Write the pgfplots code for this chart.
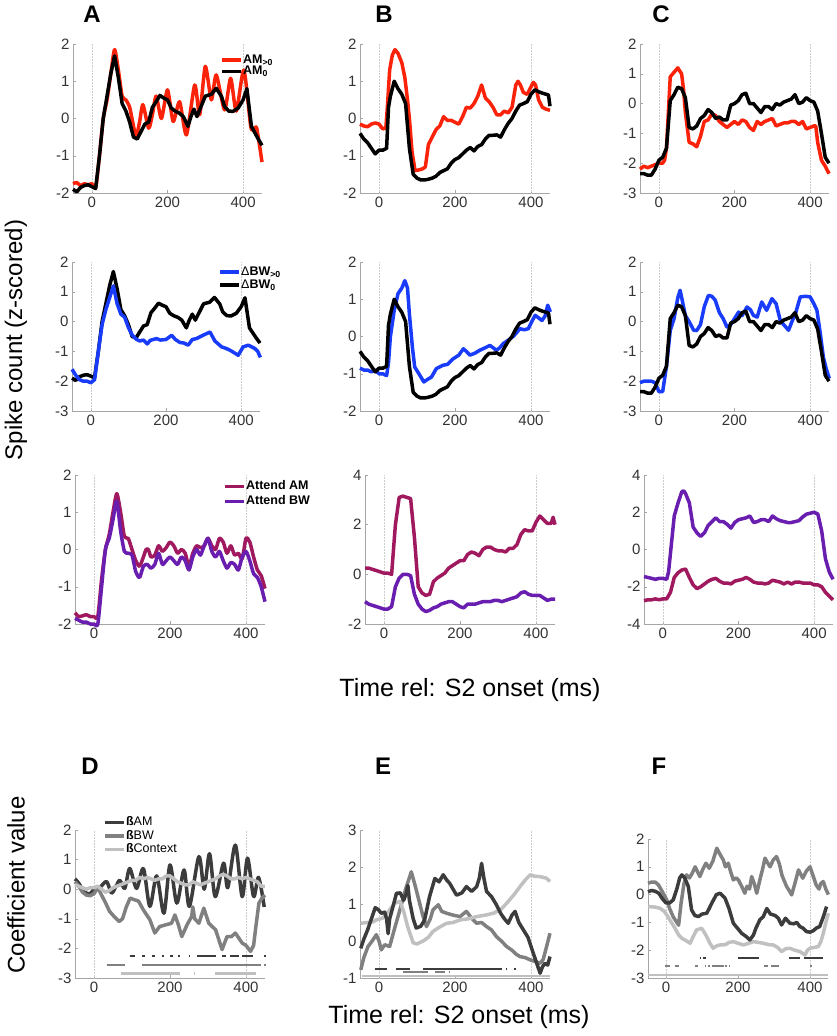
\documentclass[border=0pt]{standalone}
\usepackage{fontspec}
\setmainfont{Liberation Sans}
\usepackage{pgfplots}
\usepackage{pgfplotstable}
\pgfplotsset{compat=1.18}
\definecolor{cred}{RGB}{250,35,10}
\definecolor{cblue}{RGB}{25,60,250}
\definecolor{cmag}{RGB}{160,25,95}
\definecolor{cpur}{RGB}{105,30,175}
\definecolor{gdark}{RGB}{60,60,60}
\definecolor{gmed}{RGB}{128,128,128}
\definecolor{glight}{RGB}{192,192,192}

\pgfplotsset{
  panel/.style={
    scale only axis, xmin=-50, xmax=450, xtick={0,200,400},
    axis x line*=bottom, axis y line*=left,
    axis line style={draw=gray!70, line width=0.6pt},
    tick style={draw=gray!70, line width=0.5pt},
    tick align=inside, major tick length=3pt,
    /pgf/number format/assume math mode=true,
    tick label style={font=\fontsize{15}{15}\selectfont, text=black!80},
    clip=false, unbounded coords=jump,
    legend cell align=left,
    legend style={draw=none, fill=none, inner sep=0pt, anchor=north west,
      nodes={inner sep=0.5pt, text height=8pt, text depth=2pt},
      font=\fontsize{12.5}{13}\selectfont\bfseries},
    legend image code/.code={\draw[##1, line width=3.4pt] (0pt,0pt) -- (19pt,0pt);},
  },
  sig/.style={forget plot, line width=2.3pt, line cap=butt},
}
\newcommand{\refl}[2]{%
  \addplot[forget plot, gray!40, line width=0.5pt, densely dotted] coordinates {(0,#1)(0,#2)};
  \addplot[forget plot, gray!40, line width=0.5pt, densely dotted] coordinates {(400,#1)(400,#2)};}

% ---------------- data ----------------
\pgfplotstableread[row sep=\\]{x y\\ -50 -1.75\\ -40 -1.72\\ -30 -1.8\\ -20 -1.75\\ -10 -1.78\\ 0 -1.75\\ 10 -1.85\\ 20 -1.0\\ 30 0.0\\ 40 0.5\\ 50 1.2\\ 60 1.85\\ 70 1.3\\ 80 0.6\\ 90 0.5\\ 100 0.3\\ 108 -0.1\\ 117 -0.48\\ 126 -0.1\\ 135 0.37\\ 150 -0.26\\ 160 0.1\\ 170 0.6\\ 184 0.0\\ 200 0.77\\ 215 -0.08\\ 232 0.45\\ 250 -0.44\\ 272 0.9\\ 285 0.1\\ 300 1.4\\ 316 0.5\\ 329 1.17\\ 351 0.23\\ 367 1.08\\ 382 0.2\\ 402 1.3\\ 420 -0.2\\ 428 -0.3\\ 436 -0.26\\ 450 -1.17\\}\tAred
\pgfplotstableread[row sep=\\]{x y\\ -50 -1.9\\ -40 -1.97\\ -30 -1.85\\ -20 -1.8\\ -10 -1.78\\ 0 -1.83\\ 10 -1.88\\ 20 -1.0\\ 30 0.0\\ 40 0.6\\ 50 1.2\\ 60 1.68\\ 70 1.1\\ 80 0.4\\ 90 0.2\\ 100 -0.1\\ 110 -0.5\\ 120 -0.55\\ 130 -0.35\\ 140 -0.15\\ 150 -0.1\\ 160 0.3\\ 170 0.45\\ 180 0.62\\ 190 0.55\\ 200 0.5\\ 210 0.28\\ 220 0.2\\ 232 0.14\\ 242 0.05\\ 254 -0.21\\ 262 0.05\\ 270 0.25\\ 278 0.05\\ 290 0.35\\ 300 0.6\\ 316 0.65\\ 329 0.81\\ 343 0.59\\ 351 0.32\\ 362 0.2\\ 373 0.19\\ 387 0.28\\ 400 0.5\\ 410 0.8\\ 422 -0.21\\ 432 -0.4\\ 440 -0.55\\ 450 -0.72\\}\tAblack
\pgfplotstableread[row sep=\\]{x y\\ -50 -0.15\\ -40 -0.2\\ -30 -0.22\\ -20 -0.15\\ -10 -0.12\\ 0 -0.15\\ 10 -0.28\\ 18 -0.25\\ 22 0.3\\ 28 1.3\\ 35 1.7\\ 42 1.85\\ 50 1.75\\ 60 1.5\\ 68 1.1\\ 75 0.5\\ 80 0\\ 87 -0.9\\ 95 -1.4\\ 105 -1.38\\ 115 -1.35\\ 122 -1.3\\ 130 -0.7\\ 140 -0.5\\ 150 -0.3\\ 160 -0.2\\ 170 0.05\\ 180 -0.05\\ 190 -0.05\\ 200 -0.1\\ 210 -0.15\\ 220 0.05\\ 230 0.3\\ 240 0.28\\ 250 0.4\\ 260 0.6\\ 270 0.9\\ 280 0.55\\ 290 0.45\\ 300 0.3\\ 310 0.1\\ 320 0.1\\ 330 0.2\\ 340 0.15\\ 350 0.3\\ 360 0.9\\ 366 1.0\\ 372 0.9\\ 380 0.7\\ 390 0.65\\ 400 0.85\\ 406 0.97\\ 412 0.9\\ 420 0.5\\ 430 0.3\\ 440 0.25\\ 450 0.22\\}\tBred
\pgfplotstableread[row sep=\\]{x y\\ -50 -0.4\\ -40 -0.55\\ -30 -0.65\\ -20 -0.8\\ -10 -0.95\\ 0 -0.85\\ 10 -0.85\\ 20 -0.8\\ 25 0.3\\ 30 0.6\\ 40 1.0\\ 50 0.8\\ 60 0.65\\ 70 0.4\\ 80 -0.8\\ 90 -1.5\\ 100 -1.6\\ 110 -1.65\\ 120 -1.65\\ 130 -1.63\\ 140 -1.6\\ 150 -1.55\\ 160 -1.45\\ 170 -1.4\\ 180 -1.35\\ 190 -1.2\\ 200 -1.1\\ 210 -1.05\\ 220 -0.95\\ 230 -0.85\\ 240 -0.78\\ 250 -0.87\\ 260 -0.75\\ 270 -0.7\\ 280 -0.55\\ 290 -0.45\\ 300 -0.45\\ 310 -0.44\\ 320 -0.5\\ 330 -0.3\\ 340 -0.13\\ 350 0.0\\ 360 0.2\\ 370 0.36\\ 380 0.4\\ 390 0.45\\ 400 0.65\\ 410 0.77\\ 420 0.72\\ 430 0.68\\ 440 0.65\\ 446 0.63\\ 450 0.33\\}\tBblack
\pgfplotstableread[row sep=\\]{x y\\ -50 -2.2\\ -40 -2.1\\ -30 -2.15\\ -20 -2.1\\ -10 -2.05\\ 0 -2.0\\ 10 -2.0\\ 15 -1.9\\ 20 -1.5\\ 25 -0.3\\ 30 0.9\\ 40 1.05\\ 50 1.2\\ 60 1.0\\ 65 0.5\\ 70 -0.3\\ 80 -1.3\\ 90 -1.35\\ 100 -1.45\\ 110 -1.1\\ 120 -0.6\\ 130 -0.55\\ 140 -0.35\\ 150 -0.4\\ 160 -0.6\\ 170 -0.7\\ 180 -0.8\\ 190 -0.7\\ 200 -0.6\\ 210 -0.7\\ 220 -0.55\\ 230 -0.6\\ 240 -0.8\\ 250 -0.9\\ 260 -0.6\\ 270 -0.7\\ 280 -0.6\\ 290 -0.55\\ 300 -0.5\\ 310 -0.75\\ 320 -0.7\\ 330 -0.65\\ 340 -0.65\\ 350 -0.6\\ 360 -0.6\\ 370 -0.7\\ 380 -0.6\\ 390 -0.85\\ 400 -0.8\\ 410 -0.75\\ 415 -0.75\\ 420 -1.3\\ 430 -1.9\\ 440 -2.1\\ 450 -2.35\\}\tCred
\pgfplotstableread[row sep=\\]{x y\\ -50 -2.35\\ -40 -2.35\\ -30 -2.4\\ -20 -2.4\\ -10 -2.2\\ 0 -1.9\\ 10 -1.8\\ 20 -1.5\\ 30 0.1\\ 40 0.3\\ 50 0.55\\ 60 0.5\\ 70 0.2\\ 80 -0.8\\ 90 -0.85\\ 100 -0.75\\ 110 -0.5\\ 120 -0.4\\ 130 -0.2\\ 140 -0.3\\ 150 -0.5\\ 160 -0.45\\ 170 -0.55\\ 180 -0.55\\ 190 -0.05\\ 200 0.0\\ 210 0.1\\ 220 0.3\\ 230 0.35\\ 240 0.0\\ 250 0.0\\ 260 -0.15\\ 270 -0.3\\ 280 -0.1\\ 290 -0.1\\ 300 -0.2\\ 310 0.0\\ 320 -0.05\\ 330 0.05\\ 340 0.1\\ 350 0.15\\ 360 0.3\\ 370 0.0\\ 380 0.05\\ 390 0.2\\ 400 0.1\\ 410 0.05\\ 420 -0.25\\ 430 -1.0\\ 440 -1.8\\ 450 -2.0\\}\tCblack
\pgfplotstableread[row sep=\\]{x y\\ -50 -1.6\\ -40 -1.8\\ -30 -1.95\\ -20 -2.0\\ -10 -2.0\\ 0 -2.05\\ 10 -1.95\\ 20 -1.0\\ 30 -0.1\\ 40 0.4\\ 50 0.8\\ 60 1.2\\ 70 0.6\\ 80 0.25\\ 90 0.15\\ 100 -0.2\\ 110 -0.45\\ 122 -0.6\\ 130 -0.65\\ 140 -0.62\\ 150 -0.75\\ 158 -0.63\\ 175 -0.57\\ 185 -0.62\\ 200 -0.6\\ 215 -0.46\\ 225 -0.6\\ 237 -0.7\\ 248 -0.72\\ 259 -0.79\\ 270 -0.6\\ 281 -0.57\\ 292 -0.5\\ 300 -0.45\\ 317 -0.35\\ 330 -0.65\\ 348 -0.85\\ 360 -0.9\\ 370 -0.96\\ 382 -1.05\\ 392 -1.13\\ 405 -0.85\\ 419 -0.79\\ 428 -0.85\\ 436 -0.9\\ 444 -1.0\\ 451 -1.2\\}\tAblue
\pgfplotstableread[row sep=\\]{x y\\ -50 -0.85\\ -40 -0.9\\ -30 -0.9\\ -20 -0.95\\ -10 -0.9\\ 0 -1.0\\ 10 -1.0\\ 20 -1.05\\ 25 -0.7\\ 30 0.0\\ 40 0.7\\ 50 1.15\\ 60 1.3\\ 68 1.5\\ 75 1.3\\ 80 0.6\\ 88 -0.3\\ 94 -0.82\\ 105 -1.0\\ 118 -1.22\\ 128 -1.15\\ 138 -1.09\\ 151 -0.86\\ 169 -0.77\\ 180 -0.75\\ 195 -0.6\\ 210 -0.5\\ 222 -0.33\\ 230 -0.4\\ 239 -0.5\\ 252 -0.45\\ 265 -0.37\\ 280 -0.3\\ 292 -0.24\\ 300 -0.3\\ 309 -0.37\\ 318 -0.3\\ 327 -0.19\\ 340 -0.1\\ 353 0.0\\ 362 0.1\\ 371 0.21\\ 382 0.18\\ 393 0.21\\ 402 0.4\\ 411 0.57\\ 420 0.5\\ 429 0.43\\ 437 0.55\\ 444 0.84\\ 451 0.66\\}\tBblue
\pgfplotstableread[row sep=\\]{x y\\ -50 -2.05\\ -40 -2.0\\ -30 -2.0\\ -20 -2.0\\ -10 -2.05\\ 0 -2.35\\ 10 -2.35\\ 20 -1.5\\ 30 -0.3\\ 40 0.1\\ 50 0.8\\ 56 1.05\\ 62 0.7\\ 70 0.2\\ 80 0.0\\ 92 -0.29\\ 100 -0.3\\ 110 -0.1\\ 120 0.5\\ 131 0.88\\ 140 0.85\\ 149 0.72\\ 160 0.3\\ 170 0.1\\ 180 -0.18\\ 190 -0.1\\ 200 0.1\\ 211 0.32\\ 220 0.2\\ 233 0.49\\ 242 0.4\\ 250 0.21\\ 260 0.15\\ 272 0.66\\ 285 0.38\\ 299 0.77\\ 310 0.6\\ 321 0.04\\ 330 -0.1\\ 343 -0.29\\ 352 0.0\\ 362 0.3\\ 374 0.83\\ 388 0.85\\ 400 0.83\\ 410 0.6\\ 418 0.38\\ 427 -0.4\\ 435 -1.19\\ 443 -1.6\\ 451 -1.91\\}\tCblue
\pgfplotstableread[row sep=\\]{x y\\ -50 -1.7\\ -40 -1.8\\ -30 -1.78\\ -20 -1.75\\ -10 -1.8\\ 0 -1.8\\ 10 -1.8\\ 20 -0.8\\ 30 0.0\\ 40 0.4\\ 50 1.0\\ 60 1.5\\ 70 1.0\\ 80 0.35\\ 90 0.3\\ 100 0.0\\ 110 -0.3\\ 120 -0.45\\ 130 -0.2\\ 137 0.0\\ 143 0.0\\ 150 -0.2\\ 160 -0.15\\ 170 0.1\\ 180 -0.05\\ 190 0.05\\ 200 0.2\\ 210 0.1\\ 220 -0.1\\ 230 0.0\\ 240 -0.1\\ 250 -0.45\\ 260 -0.1\\ 270 0.1\\ 280 0.05\\ 290 0.1\\ 300 0.3\\ 310 0.1\\ 320 0.0\\ 330 0.3\\ 340 0.2\\ 350 -0.1\\ 360 0.1\\ 370 -0.15\\ 380 -0.1\\ 390 -0.25\\ 400 0.3\\ 410 0.2\\ 420 -0.2\\ 430 -0.55\\ 440 -0.7\\ 450 -1.05\\}\tAmag
\pgfplotstableread[row sep=\\]{x y\\ -50 -1.85\\ -40 -1.9\\ -30 -1.95\\ -20 -1.95\\ -10 -2.0\\ 0 -2.0\\ 10 -2.0\\ 20 -1.0\\ 30 0.0\\ 40 0.3\\ 50 0.8\\ 60 1.3\\ 70 0.5\\ 80 -0.05\\ 90 -0.1\\ 100 -0.15\\ 110 -0.6\\ 120 -0.75\\ 130 -0.45\\ 140 -0.4\\ 150 -0.5\\ 160 -0.4\\ 170 -0.1\\ 180 -0.4\\ 190 -0.3\\ 200 -0.2\\ 210 -0.3\\ 220 -0.4\\ 230 -0.2\\ 240 -0.3\\ 250 -0.55\\ 260 -0.2\\ 270 0.0\\ 280 -0.15\\ 290 0.1\\ 300 0.3\\ 310 -0.05\\ 320 -0.2\\ 330 -0.05\\ 340 -0.3\\ 350 -0.5\\ 360 -0.35\\ 370 -0.4\\ 380 -0.55\\ 390 -0.2\\ 400 -0.05\\ 410 -0.3\\ 420 -0.65\\ 430 -0.75\\ 440 -1.0\\ 450 -1.4\\}\tApur
\pgfplotstableread[row sep=\\]{x y\\ -50 0.25\\ -40 0.25\\ -30 0.2\\ -20 0.15\\ -10 0.1\\ 0 0.05\\ 10 0.05\\ 20 0.0\\ 25 1.0\\ 30 2.0\\ 40 3.1\\ 50 3.15\\ 60 3.1\\ 70 3.05\\ 80 1.5\\ 90 -0.5\\ 100 -0.75\\ 110 -0.85\\ 120 -0.8\\ 130 -0.3\\ 140 -0.15\\ 150 -0.05\\ 160 0.05\\ 170 0.25\\ 180 0.35\\ 190 0.45\\ 200 0.55\\ 210 0.55\\ 220 0.8\\ 230 0.9\\ 240 0.85\\ 250 0.75\\ 260 1.0\\ 270 1.1\\ 280 1.1\\ 290 1.0\\ 300 0.95\\ 310 0.95\\ 320 0.9\\ 330 1.05\\ 340 1.05\\ 350 1.2\\ 360 1.6\\ 370 1.8\\ 380 1.75\\ 390 1.75\\ 400 2.1\\ 410 2.35\\ 420 2.2\\ 430 2.05\\ 440 2.05\\ 445 2.3\\ 450 2.0\\}\tBmag
\pgfplotstableread[row sep=\\]{x y\\ -50 -1.1\\ -40 -1.2\\ -30 -1.25\\ -20 -1.3\\ -10 -1.35\\ 0 -1.4\\ 10 -1.4\\ 20 -1.3\\ 30 -0.5\\ 40 -0.15\\ 50 0.0\\ 60 0.0\\ 70 -0.05\\ 80 -0.8\\ 90 -1.2\\ 100 -1.4\\ 110 -1.5\\ 120 -1.45\\ 130 -1.35\\ 140 -1.3\\ 150 -1.2\\ 160 -1.15\\ 170 -1.1\\ 180 -1.1\\ 190 -1.2\\ 200 -1.3\\ 210 -1.35\\ 220 -1.2\\ 230 -1.2\\ 240 -1.2\\ 250 -1.15\\ 260 -1.1\\ 270 -1.1\\ 280 -1.1\\ 290 -1.05\\ 300 -1.05\\ 310 -1.1\\ 320 -1.05\\ 330 -1.0\\ 340 -0.95\\ 350 -0.9\\ 360 -0.75\\ 370 -0.7\\ 380 -0.8\\ 390 -0.85\\ 400 -0.85\\ 410 -0.85\\ 420 -0.95\\ 430 -1.05\\ 440 -1.0\\ 450 -1.0\\}\tBpur
\pgfplotstableread[row sep=\\]{x y\\ -50 -1.45\\ -40 -1.5\\ -30 -1.55\\ -20 -1.6\\ -10 -1.55\\ 0 -1.55\\ 10 -1.6\\ 15 -1.2\\ 20 -0.2\\ 30 1.8\\ 40 2.5\\ 50 3.1\\ 55 3.15\\ 60 3.0\\ 70 2.5\\ 80 1.2\\ 90 0.9\\ 100 0.7\\ 110 0.9\\ 120 1.3\\ 130 1.5\\ 140 1.7\\ 150 1.5\\ 160 1.5\\ 170 1.35\\ 180 1.15\\ 190 1.45\\ 200 1.6\\ 210 1.65\\ 220 1.7\\ 230 1.8\\ 240 1.45\\ 250 1.5\\ 260 1.6\\ 270 1.6\\ 280 1.5\\ 290 1.8\\ 300 1.65\\ 310 1.55\\ 320 1.5\\ 330 1.45\\ 340 1.45\\ 350 1.5\\ 360 1.55\\ 370 1.75\\ 380 1.9\\ 390 1.95\\ 400 2.0\\ 410 1.9\\ 420 1.0\\ 430 -0.5\\ 440 -1.2\\ 450 -1.6\\}\tCpur
\pgfplotstableread[row sep=\\]{x y\\ -50 -2.75\\ -40 -2.7\\ -30 -2.7\\ -20 -2.65\\ -10 -2.7\\ 0 -2.65\\ 10 -2.65\\ 20 -2.3\\ 30 -1.5\\ 40 -1.25\\ 50 -1.1\\ 60 -1.05\\ 70 -1.5\\ 80 -1.9\\ 90 -2.1\\ 100 -2.0\\ 110 -1.85\\ 120 -1.7\\ 130 -1.6\\ 140 -1.55\\ 150 -1.7\\ 160 -1.8\\ 170 -1.8\\ 180 -1.85\\ 190 -1.7\\ 200 -1.65\\ 210 -1.6\\ 220 -1.5\\ 230 -1.6\\ 240 -1.75\\ 250 -1.8\\ 260 -1.8\\ 270 -1.85\\ 280 -1.8\\ 290 -1.65\\ 300 -1.7\\ 310 -1.75\\ 320 -1.85\\ 330 -1.75\\ 340 -1.85\\ 350 -1.75\\ 360 -1.75\\ 370 -1.8\\ 380 -1.8\\ 390 -1.8\\ 400 -1.9\\ 410 -1.9\\ 420 -2.0\\ 430 -2.3\\ 440 -2.5\\ 450 -2.7\\}\tCmag
% D
\pgfplotstableread[row sep=\\]{x y\\ -50 0.35\\ -40 0.2\\ -25 -0.1\\ -10 -0.15\\ 0 0.0\\ 15 0.05\\ 33 0.26\\ 46 -0.13\\ 58 0.1\\ 68 0.3\\ 81 0.03\\ 94 0.7\\ 112 0.03\\ 130 0.7\\ 147 -0.58\\ 165 0.45\\ 184 -0.81\\ 200 0.82\\ 218 -0.47\\ 237 0.65\\ 251 -0.58\\ 276 1.1\\ 290 0.0\\ 304 1.2\\ 319 -0.25\\ 341 0.88\\ 352 0.05\\ 372 1.49\\ 390 -0.25\\ 404 1.05\\ 420 -0.25\\ 433 0.4\\ 448 -0.6\\}\tDam
\pgfplotstableread[row sep=\\]{x y\\ -50 0.25\\ -40 0.1\\ -30 -0.1\\ -20 -0.2\\ -10 -0.22\\ 0 -0.15\\ 10 0.05\\ 20 -0.2\\ 30 -0.45\\ 41 -0.75\\ 55 -0.95\\ 66 -1.09\\ 75 -1.0\\ 85 -0.6\\ 95 -0.3\\ 105 -0.35\\ 117 -0.4\\ 130 -0.7\\ 147 -1.03\\ 160 -1.48\\ 173 -1.26\\ 190 -1.2\\ 204 -1.15\\ 213 -0.87\\ 222 -1.2\\ 231 -1.6\\ 245 -1.2\\ 257 -0.92\\ 260 -0.6\\ 265 -1.0\\ 276 -1.15\\ 289 -0.64\\ 302 -1.15\\ 320 -1.37\\ 337 -2.04\\ 350 -1.6\\ 362 -1.6\\ 372 -1.48\\ 390 -1.82\\ 400 -1.9\\ 412 -2.1\\ 420 -1.9\\ 426 -1.26\\ 434 -0.47\\ 442 -0.3\\ 450 -0.2\\}\tDbw
\pgfplotstableread[row sep=\\]{x y\\ -50 0.15\\ -40 0.1\\ -30 0.05\\ -20 0.0\\ -10 0.05\\ 0 0.05\\ 10 0.1\\ 20 0.0\\ 30 -0.1\\ 40 -0.05\\ 50 0.05\\ 60 0.1\\ 70 0.15\\ 80 0.2\\ 90 0.25\\ 100 0.3\\ 110 0.3\\ 120 0.4\\ 130 0.35\\ 140 0.4\\ 150 0.35\\ 160 0.3\\ 170 0.35\\ 180 0.35\\ 190 0.45\\ 200 0.45\\ 210 0.35\\ 220 0.25\\ 230 0.2\\ 240 0.15\\ 250 0.15\\ 260 0.25\\ 270 0.2\\ 280 0.15\\ 290 0.2\\ 300 0.25\\ 310 0.3\\ 320 0.35\\ 330 0.45\\ 340 0.5\\ 350 0.45\\ 360 0.35\\ 370 0.35\\ 380 0.4\\ 390 0.35\\ 400 0.4\\ 410 0.35\\ 420 0.3\\ 430 0.25\\ 440 0.1\\ 450 0.1\\}\tDctx
% E
\pgfplotstableread[row sep=\\]{x y\\ -48 -0.2\\ -40 0.05\\ -30 0.3\\ -20 0.6\\ -10 0.9\\ -2 0.85\\ 6 0.75\\ 15 0.78\\ 20 0.6\\ 24 0.2\\ 28 0.6\\ 36 0.9\\ 46 1.29\\ 56 1.3\\ 65 1.1\\ 72 1.3\\ 76 1.5\\ 80 1.1\\ 90 0.6\\ 98 0.35\\ 110 0.4\\ 120 0.57\\ 133 1.2\\ 147 1.69\\ 158 1.6\\ 169 1.79\\ 178 1.65\\ 186 1.56\\ 195 1.4\\ 204 1.24\\ 218 1.3\\ 230 1.47\\ 244 1.34\\ 257 1.47\\ 264 1.7\\ 270 2.1\\ 276 1.7\\ 283 1.34\\ 296 1.2\\ 309 0.98\\ 320 0.75\\ 330 0.6\\ 340 0.48\\ 350 0.7\\ 358 0.8\\ 368 0.5\\ 380 0.3\\ 392 0.1\\ 406 -0.33\\ 415 -0.6\\ 424 -0.87\\ 430 -0.7\\ 437 -0.6\\ 444 -0.65\\ 450 -0.42\\}\tEam
\pgfplotstableread[row sep=\\]{x y\\ -48 -0.78\\ -40 -0.45\\ -29 -0.15\\ -18 0.0\\ -7 0.17\\ 0 0.0\\ 6 -0.24\\ 15 -0.1\\ 28 -0.15\\ 40 0.3\\ 55 0.84\\ 70 1.4\\ 85 1.87\\ 95 1.5\\ 107 1.02\\ 115 0.7\\ 125 0.39\\ 135 0.6\\ 142 0.84\\ 156 0.98\\ 165 0.8\\ 178 0.75\\ 195 0.7\\ 213 0.66\\ 230 0.8\\ 245 0.6\\ 257 0.48\\ 270 0.5\\ 283 0.39\\ 296 0.3\\ 309 0.12\\ 322 0.0\\ 336 -0.15\\ 350 -0.25\\ 360 -0.35\\ 371 -0.42\\ 385 -0.45\\ 398 -0.51\\ 410 -0.55\\ 424 -0.6\\ 432 -0.5\\ 441 -0.15\\ 450 0.21\\}\tEbw
\pgfplotstableread[row sep=\\]{x y\\ -48 0.48\\ -30 0.5\\ -15 0.52\\ -7 0.57\\ 10 0.62\\ 25 0.8\\ 41 1.02\\ 55 1.07\\ 65 0.8\\ 75 0.4\\ 90 -0.05\\ 100 -0.08\\ 116 0.0\\ 130 0.1\\ 142 0.26\\ 160 0.38\\ 178 0.48\\ 195 0.5\\ 213 0.57\\ 235 0.6\\ 257 0.66\\ 280 0.7\\ 301 0.75\\ 320 0.85\\ 336 1.02\\ 355 1.25\\ 371 1.47\\ 385 1.65\\ 398 1.79\\ 410 1.75\\ 424 1.74\\ 440 1.7\\ 450 1.61\\}\tEctx
% F
\pgfplotstableread[row sep=\\]{x y\\ -50 0.41\\ -40 0.45\\ -30 0.45\\ -21 0.35\\ -10 0.1\\ 2 -0.19\\ 10 -0.5\\ 20 -0.8\\ 30 -1.0\\ 35 -1.1\\ 42 -0.3\\ 50 0.4\\ 57 0.71\\ 65 0.6\\ 72 0.75\\ 81 1.0\\ 94 0.65\\ 102 0.9\\ 111 1.13\\ 120 0.95\\ 130 1.2\\ 141 1.67\\ 150 1.45\\ 159 1.25\\ 165 1.0\\ 173 1.13\\ 180 0.8\\ 187 0.53\\ 195 0.6\\ 201 0.53\\ 210 0.3\\ 219 0.05\\ 225 0.3\\ 232 0.2\\ 238 0.65\\ 245 0.4\\ 252 0.05\\ 262 0.6\\ 268 0.9\\ 275 1.31\\ 282 1.15\\ 289 1.0\\ 298 1.25\\ 307 1.37\\ 315 1.1\\ 322 0.7\\ 335 0.29\\ 342 0.15\\ 349 -0.01\\ 358 0.4\\ 368 0.89\\ 380 0.59\\ 390 0.85\\ 400 1.0\\ 408 0.7\\ 417 0.35\\ 425 0.2\\ 430 0.4\\ 437 0.47\\ 444 0.2\\ 451 0.0\\}\tFbw
\pgfplotstableread[row sep=\\]{x y\\ -50 0.1\\ -40 0.15\\ -30 0.12\\ -20 0.05\\ -10 -0.15\\ 0 -0.3\\ 10 -0.3\\ 20 -0.19\\ 30 0.2\\ 38 0.6\\ 44 0.71\\ 52 0.6\\ 62 0.29\\ 71 -0.55\\ 80 -0.75\\ 90 -0.79\\ 100 -0.7\\ 113 -0.67\\ 120 -0.5\\ 127 -0.31\\ 140 0.0\\ 150 0.05\\ 158 -0.05\\ 164 -0.13\\ 175 -0.5\\ 187 -1.03\\ 198 -1.2\\ 210 -1.39\\ 222 -1.5\\ 233 -1.63\\ 243 -1.45\\ 250 -1.2\\ 261 -0.9\\ 270 -0.8\\ 280 -0.5\\ 290 -0.7\\ 303 -0.75\\ 312 -0.85\\ 321 -1.09\\ 332 -0.85\\ 344 -1.03\\ 355 -1.05\\ 363 -1.0\\ 372 -1.15\\ 380 -1.2\\ 390 -1.33\\ 400 -1.35\\ 409 -1.3\\ 418 -1.2\\ 427 -1.15\\ 437 -0.8\\ 446 -0.43\\}\tFam
\pgfplotstableread[row sep=\\]{x y\\ -50 -0.43\\ -30 -0.45\\ -17 -0.49\\ -5 -0.6\\ 2 -0.73\\ 15 -1.0\\ 25 -1.21\\ 35 -1.45\\ 44 -1.57\\ 55 -1.65\\ 67 -1.75\\ 76 -1.5\\ 85 -1.27\\ 99 -1.21\\ 106 -1.35\\ 113 -1.51\\ 122 -1.75\\ 131 -1.93\\ 140 -1.85\\ 150 -1.81\\ 165 -1.8\\ 175 -1.72\\ 187 -1.69\\ 200 -1.75\\ 215 -1.81\\ 230 -1.75\\ 243 -1.69\\ 257 -1.72\\ 270 -1.75\\ 285 -1.8\\ 298 -1.81\\ 310 -1.9\\ 321 -2.05\\ 332 -1.95\\ 344 -1.93\\ 358 -2.0\\ 372 -2.05\\ 386 -2.17\\ 393 -2.0\\ 400 -1.93\\ 412 -1.9\\ 423 -1.87\\ 430 -1.7\\ 437 -1.39\\ 444 -1.0\\ 451 -0.67\\}\tFctx

\begin{document}
\begin{tikzpicture}[x=1pt,y=1pt]
\path[use as bounding box] (0,0) rectangle (837,-1036);

% ===== Row 1 =====
\begin{axis}[panel, at={(73pt,-193pt)}, anchor=south west, width=189pt, height=149pt,
  ymin=-2, ymax=2, ytick={-2,-1,0,1,2},
  legend style={at={(0.778,0.93)}, row sep=0.5pt}]
\refl{-2}{2}
\addplot[line width=3.5pt, line join=round, cred, smooth, tension=0.4] table {\tAred};
\addlegendentry{AM\textsubscript{>0}}
\addplot[line width=3.5pt, line join=round, black] table {\tAblack};
\addlegendentry{AM\textsubscript{0}}
\end{axis}
\begin{axis}[panel, at={(360pt,-193pt)}, anchor=south west, width=190pt, height=149pt,
  ymin=-2, ymax=2, ytick={-2,-1,0,1,2}]
\refl{-2}{2}
\addplot[line width=3.5pt, line join=round, cred] table {\tBred};
\addplot[line width=3.5pt, line join=round, black] table {\tBblack};
\end{axis}
\begin{axis}[panel, at={(640pt,-193pt)}, anchor=south west, width=189pt, height=149pt,
  ymin=-3, ymax=2, ytick={-3,-2,-1,0,1,2}]
\refl{-3}{2}
\addplot[line width=3.5pt, line join=round, cred] table {\tCred};
\addplot[line width=3.5pt, line join=round, black] table {\tCblack};
\end{axis}

% ===== Row 2 =====
\begin{axis}[panel, at={(72pt,-411pt)}, anchor=south west, width=188pt, height=149pt,
  ymin=-3, ymax=2, ytick={-3,-2,-1,0,1,2},
  legend style={at={(0.777,0.97)}, row sep=2pt}]
\refl{-3}{2}
\addplot[line width=3.5pt, line join=round, black, forget plot] table {\tAblack};
\addplot[line width=3.5pt, line join=round, cblue, forget plot] table {\tAblue};
\addlegendimage{cblue}
\addlegendentry{\mdseries Δ\textbf{BW\textsubscript{>0}}}
\addlegendimage{black}
\addlegendentry{\mdseries Δ\textbf{BW\textsubscript{0}}}
\end{axis}
\begin{axis}[panel, at={(360pt,-411pt)}, anchor=south west, width=190pt, height=149pt,
  ymin=-2, ymax=2, ytick={-2,-1,0,1,2}]
\refl{-2}{2}
\addplot[line width=3.5pt, line join=round, cblue] table {\tBblue};
\addplot[line width=3.5pt, line join=round, black] table {\tBblack};
\end{axis}
\begin{axis}[panel, at={(640pt,-411pt)}, anchor=south west, width=189pt, height=149pt,
  ymin=-3, ymax=2, ytick={-3,-2,-1,0,1,2}]
\refl{-3}{2}
\addplot[line width=3.5pt, line join=round, cblue] table {\tCblue};
\addplot[line width=3.5pt, line join=round, black] table {\tCblack};
\end{axis}

% ===== Row 3 =====
\begin{axis}[panel, at={(75pt,-624pt)}, anchor=south west, width=190pt, height=149pt,
  ymin=-2, ymax=2, ytick={-2,-1,0,1,2},
  legend style={at={(0.779,0.96)}, row sep=4pt}]
\refl{-2}{2}
\addplot[line width=3.5pt, line join=round, cmag, smooth, tension=0.4] table {\tAmag};
\addlegendentry{Attend AM}
\addplot[line width=3.5pt, line join=round, cpur, smooth, tension=0.4] table {\tApur};
\addlegendentry{Attend BW}
\end{axis}
\begin{axis}[panel, at={(365pt,-624pt)}, anchor=south west, width=190pt, height=149pt,
  ymin=-2, ymax=4, ytick={-2,0,2,4}]
\refl{-2}{4}
\addplot[line width=3.5pt, line join=round, cmag] table {\tBmag};
\addplot[line width=3.5pt, line join=round, cpur] table {\tBpur};
\end{axis}
\begin{axis}[panel, at={(644pt,-624pt)}, anchor=south west, width=189pt, height=149pt,
  ymin=-4, ymax=4, ytick={-4,-2,0,2,4}]
\refl{-4}{4}
\addplot[line width=3.5pt, line join=round, cpur] table {\tCpur};
\addplot[line width=3.5pt, line join=round, cmag] table {\tCmag};
\end{axis}

% ===== Row 4 =====
\begin{axis}[panel, at={(75pt,-978pt)}, anchor=south west, width=190pt, height=148pt,
  ymin=-3, ymax=2, ytick={-3,-2,-1,0,1,2},
  legend style={at={(0.147,1.088)}, row sep=2.5pt, font=\fontsize{12.5}{13}\selectfont}]
\refl{-3}{2}
\addplot[line width=3.5pt, line join=round, gdark, smooth, tension=0.5] table {\tDam};
\addlegendentry{\textbf{ß}AM}
\addplot[line width=3.5pt, line join=round, gmed] table {\tDbw};
\addlegendentry{\textbf{ß}BW}
\addplot[line width=3.5pt, line join=round, glight] table {\tDctx};
\addlegendentry{\textbf{ß}Context}
\addplot[sig, gdark] coordinates {(94,-2.25)(108,-2.25)(nan,nan)(125,-2.25)(134,-2.25)(nan,nan)(152,-2.25)(161,-2.25)(nan,nan)(178,-2.25)(184,-2.25)(nan,nan)(200,-2.25)(207,-2.25)(nan,nan)(222,-2.25)(227,-2.25)(nan,nan)(249,-2.25)(253,-2.25)(nan,nan)(271,-2.25)(320,-2.25)(nan,nan)(337,-2.25)(348,-2.25)(nan,nan)(359,-2.25)(381,-2.25)(nan,nan)(390,-2.25)(418,-2.25)(nan,nan)(448,-2.25)(452,-2.25)};
\addplot[sig, gmed] coordinates {(33,-2.55)(81,-2.55)(nan,nan)(125,-2.55)(439,-2.55)(nan,nan)(448,-2.55)(452,-2.55)};
\addplot[sig, glight] coordinates {(72,-2.85)(227,-2.85)(nan,nan)(263,-2.85)(267,-2.85)(nan,nan)(318,-2.85)(426,-2.85)};
\end{axis}
\begin{axis}[panel, at={(360pt,-978pt)}, anchor=south west, width=190pt, height=148pt,
  ymin=-1, ymax=3, ytick={-1,0,1,2,3}]
\refl{-1}{3}
\addplot[line width=3.5pt, line join=round, gmed] table {\tEbw};
\addplot[line width=3.5pt, line join=round, glight] table {\tEctx};
\addplot[line width=3.5pt, line join=round, gdark] table {\tEam};
\addplot[sig, gdark] coordinates {(-11,-0.75)(20,-0.75)(nan,nan)(44,-0.75)(81,-0.75)(nan,nan)(116,-0.75)(323,-0.75)(nan,nan)(334,-0.75)(338,-0.75)(nan,nan)(356,-0.75)(360,-0.75)};
\addplot[sig, gmed] coordinates {(63,-0.84)(129,-0.84)(nan,nan)(147,-0.84)(173,-0.84)(nan,nan)(184,-0.84)(188,-0.84)};
\addplot[sig, glight, line width=1.6pt] coordinates {(-45,-0.95)(450,-0.95)};
\end{axis}
\begin{axis}[panel, at={(648pt,-978pt)}, anchor=south west, width=180pt, height=139pt,
  ymin=-3, ymax=2, ytick={-3,-2,-1,0,1,2}]
\refl{-3}{2}
\addplot[line width=3.5pt, line join=round, gmed] table {\tFbw};
\addplot[line width=3.5pt, line join=round, glight] table {\tFctx};
\addplot[line width=3.5pt, line join=round, gdark] table {\tFam};
\addplot[sig, gdark] coordinates {(94,-2.28)(98,-2.28)(nan,nan)(104,-2.28)(110,-2.28)(nan,nan)(201,-2.28)(258,-2.28)(nan,nan)(343,-2.28)(372,-2.28)(nan,nan)(383,-2.28)(435,-2.28)};
\addplot[sig, gmed] coordinates {(-3,-2.58)(11,-2.58)(nan,nan)(25,-2.58)(35,-2.58)(nan,nan)(80,-2.58)(89,-2.58)(nan,nan)(108,-2.58)(112,-2.58)(nan,nan)(118,-2.58)(122,-2.58)(nan,nan)(128,-2.58)(160,-2.58)(nan,nan)(165,-2.58)(170,-2.58)(nan,nan)(175,-2.58)(178,-2.58)(nan,nan)(272,-2.58)(284,-2.58)(nan,nan)(292,-2.58)(315,-2.58)(nan,nan)(401,-2.58)(405,-2.58)};
\addplot[sig, glight, line width=1.6pt] coordinates {(-50,-2.89)(450,-2.89)};
\end{axis}

% ===== labels =====
\node[font=\fontsize{24}{24}\selectfont\bfseries] at (92,-14) {A};
\node[font=\fontsize{24}{24}\selectfont\bfseries] at (384,-14) {B};
\node[font=\fontsize{24}{24}\selectfont\bfseries] at (661,-14) {C};
\node[font=\fontsize{24}{24}\selectfont\bfseries] at (90,-766) {D};
\node[font=\fontsize{24}{24}\selectfont\bfseries] at (383,-766) {E};
\node[font=\fontsize{24}{24}\selectfont\bfseries] at (659,-766) {F};
\node[font=\fontsize{24}{24}\selectfont, rotate=90] at (16,-340) {Spike count (z-scored)};
\node[font=\fontsize{25}{25}\selectfont] at (470,-690) {Time rel: S2 onset (ms)};
\node[font=\fontsize{24}{24}\selectfont, rotate=90] at (16,-885) {Coefficient value};
\node[font=\fontsize{25}{25}\selectfont] at (459,-1017) {Time rel: S2 onset (ms)};
\end{tikzpicture}
\end{document}
